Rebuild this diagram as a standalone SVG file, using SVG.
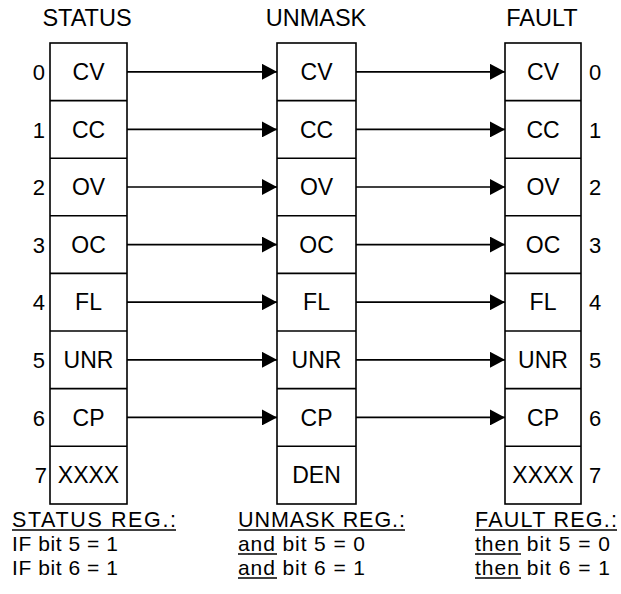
<svg xmlns="http://www.w3.org/2000/svg" width="621" height="594" viewBox="0 0 621 594">
<style>
text{font-family:"Liberation Sans",Arial,sans-serif;fill:#000}
.t{font-size:23.5px;text-anchor:middle}
.c{font-size:23px;text-anchor:middle}
.n{font-size:22px}
.b{font-size:21px}
.h{font-size:21.5px}
.box,line.d{fill:#fff;stroke:#000;stroke-width:1.6}
.conn line{stroke:#000;stroke-width:1.7}
.u{stroke:#000;stroke-width:1.4}
</style>
<defs>
<marker id="ah" markerWidth="16" markerHeight="16" refX="15" refY="8" orient="auto" markerUnits="userSpaceOnUse">
<path d="M0,0 L15,8 L0,16 Z" fill="#000"/>
</marker>
</defs>
<rect width="621" height="594" fill="#fff"/>
<text class="t" x="87" y="26">STATUS</text>
<text class="t" x="316" y="26">UNMASK</text>
<text class="t" x="542" y="26">FAULT</text>

<g id="status">
<rect class="box" x="50" y="43" width="77" height="461"/>
<line class="d" x1="50" y1="100.6" x2="127" y2="100.6"/>
<line class="d" x1="50" y1="158.2" x2="127" y2="158.2"/>
<line class="d" x1="50" y1="215.8" x2="127" y2="215.8"/>
<line class="d" x1="50" y1="273.4" x2="127" y2="273.4"/>
<line class="d" x1="50" y1="331" x2="127" y2="331"/>
<line class="d" x1="50" y1="388.6" x2="127" y2="388.6"/>
<line class="d" x1="50" y1="446.2" x2="127" y2="446.2"/>
<text class="c" x="88.5" y="80">CV</text>
<text class="c" x="88.5" y="137.6">CC</text>
<text class="c" x="88.5" y="195.2">OV</text>
<text class="c" x="88.5" y="252.8">OC</text>
<text class="c" x="88.5" y="310.4">FL</text>
<text class="c" x="88.5" y="368">UNR</text>
<text class="c" x="88.5" y="425.6">CP</text>
<text class="c" x="88.5" y="483.2">XXXX</text>
<g class="n" text-anchor="end">
<text x="45" y="80">0</text>
<text x="45" y="137.6">1</text>
<text x="45" y="195.2">2</text>
<text x="45" y="252.8">3</text>
<text x="45" y="310.4">4</text>
<text x="45" y="368">5</text>
<text x="45" y="425.6">6</text>
<text x="47" y="483.2">7</text>
</g>
</g>

<g id="unmask">
<rect class="box" x="277" y="43" width="79" height="461"/>
<line class="d" x1="277" y1="100.6" x2="356" y2="100.6"/>
<line class="d" x1="277" y1="158.2" x2="356" y2="158.2"/>
<line class="d" x1="277" y1="215.8" x2="356" y2="215.8"/>
<line class="d" x1="277" y1="273.4" x2="356" y2="273.4"/>
<line class="d" x1="277" y1="331" x2="356" y2="331"/>
<line class="d" x1="277" y1="388.6" x2="356" y2="388.6"/>
<line class="d" x1="277" y1="446.2" x2="356" y2="446.2"/>
<text class="c" x="316.5" y="80">CV</text>
<text class="c" x="316.5" y="137.6">CC</text>
<text class="c" x="316.5" y="195.2">OV</text>
<text class="c" x="316.5" y="252.8">OC</text>
<text class="c" x="316.5" y="310.4">FL</text>
<text class="c" x="316.5" y="368">UNR</text>
<text class="c" x="316.5" y="425.6">CP</text>
<text class="c" x="316.5" y="483.2">DEN</text>
</g>

<g id="fault">
<rect class="box" x="505" y="43" width="76" height="461"/>
<line class="d" x1="505" y1="100.6" x2="581" y2="100.6"/>
<line class="d" x1="505" y1="158.2" x2="581" y2="158.2"/>
<line class="d" x1="505" y1="215.8" x2="581" y2="215.8"/>
<line class="d" x1="505" y1="273.4" x2="581" y2="273.4"/>
<line class="d" x1="505" y1="331" x2="581" y2="331"/>
<line class="d" x1="505" y1="388.6" x2="581" y2="388.6"/>
<line class="d" x1="505" y1="446.2" x2="581" y2="446.2"/>
<text class="c" x="543" y="80">CV</text>
<text class="c" x="543" y="137.6">CC</text>
<text class="c" x="543" y="195.2">OV</text>
<text class="c" x="543" y="252.8">OC</text>
<text class="c" x="543" y="310.4">FL</text>
<text class="c" x="543" y="368">UNR</text>
<text class="c" x="543" y="425.6">CP</text>
<text class="c" x="543" y="483.2">XXXX</text>
<g class="n">
<text x="589" y="80">0</text>
<text x="589" y="137.6">1</text>
<text x="589" y="195.2">2</text>
<text x="589" y="252.8">3</text>
<text x="589" y="310.4">4</text>
<text x="589" y="368">5</text>
<text x="589" y="425.6">6</text>
<text x="589" y="483.2">7</text>
</g>
</g>

<g id="connectors" class="conn">
<line x1="127" y1="71.8" x2="277" y2="71.8" marker-end="url(#ah)"/>
<line x1="127" y1="129.4" x2="277" y2="129.4" marker-end="url(#ah)"/>
<line x1="127" y1="187" x2="277" y2="187" marker-end="url(#ah)"/>
<line x1="127" y1="244.6" x2="277" y2="244.6" marker-end="url(#ah)"/>
<line x1="127" y1="302.2" x2="277" y2="302.2" marker-end="url(#ah)"/>
<line x1="127" y1="359.8" x2="277" y2="359.8" marker-end="url(#ah)"/>
<line x1="127" y1="417.4" x2="277" y2="417.4" marker-end="url(#ah)"/>
<line x1="356" y1="71.8" x2="505" y2="71.8" marker-end="url(#ah)"/>
<line x1="356" y1="129.4" x2="505" y2="129.4" marker-end="url(#ah)"/>
<line x1="356" y1="187" x2="505" y2="187" marker-end="url(#ah)"/>
<line x1="356" y1="244.6" x2="505" y2="244.6" marker-end="url(#ah)"/>
<line x1="356" y1="302.2" x2="505" y2="302.2" marker-end="url(#ah)"/>
<line x1="356" y1="359.8" x2="505" y2="359.8" marker-end="url(#ah)"/>
<line x1="356" y1="417.4" x2="505" y2="417.4" marker-end="url(#ah)"/>
</g>

<g id="notes">
<text class="h" x="12" y="527" textLength="164" lengthAdjust="spacing">STATUS REG.:</text>
<line class="u" x1="12" y1="530" x2="176" y2="530"/>
<text class="b" x="12" y="551" textLength="106" lengthAdjust="spacing">IF bit 5 = 1</text>
<text class="b" x="12" y="575" textLength="106" lengthAdjust="spacing">IF bit 6 = 1</text>

<text class="h" x="238" y="527" textLength="167" lengthAdjust="spacing">UNMASK REG.:</text>
<line class="u" x1="238" y1="530" x2="405" y2="530"/>
<text class="b" x="238" y="551" textLength="127" lengthAdjust="spacing">and bit 5 = 0</text>
<line class="u" x1="238" y1="554" x2="277" y2="554"/>
<text class="b" x="238" y="575" textLength="127" lengthAdjust="spacing">and bit 6 = 1</text>
<line class="u" x1="238" y1="578" x2="277" y2="578"/>

<text class="h" x="475" y="527" textLength="142" lengthAdjust="spacing">FAULT REG.:</text>
<line class="u" x1="475" y1="530" x2="617" y2="530"/>
<text class="b" x="475" y="551" textLength="135" lengthAdjust="spacing">then bit 5 = 0</text>
<line class="u" x1="475" y1="554" x2="521" y2="554"/>
<text class="b" x="475" y="575" textLength="135" lengthAdjust="spacing">then bit 6 = 1</text>
<line class="u" x1="475" y1="578" x2="521" y2="578"/>
</g>
</svg>
